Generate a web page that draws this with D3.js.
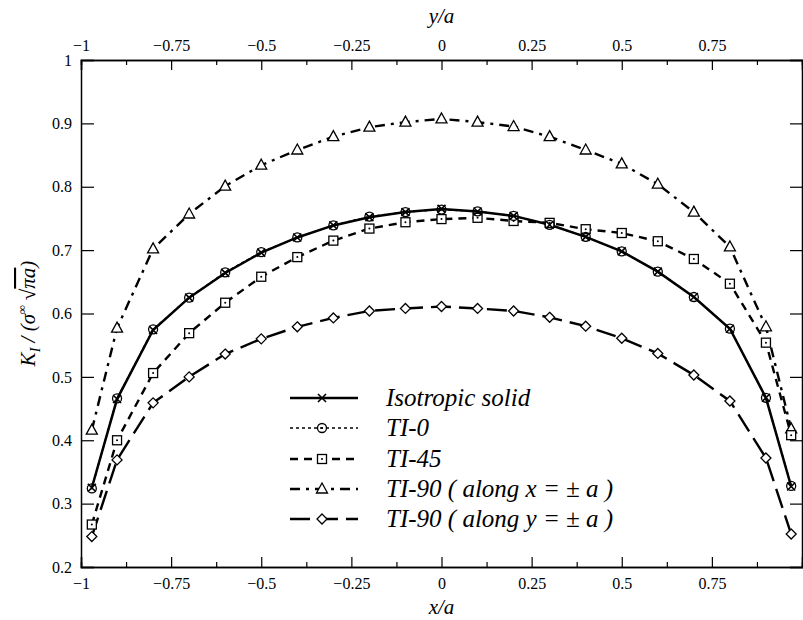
<!DOCTYPE html>
<html>
<head>
<meta charset="utf-8">
<script src="https://cdn.jsdelivr.net/npm/d3@7"></script>
<style>
  body { margin: 0; background: #fff; }
  svg, svg text { font-family: "Liberation Serif", "Times New Roman", "DejaVu Serif", "Noto Serif", serif; fill: #000; }
  .tick-label { font-size: 16px; }
  .axis-title { font-size: 21px; font-style: italic; }
  .legend-text { font-size: 25px; font-style: italic; }
</style>
</head>
<body>
<div id="chart"></div>
<script>
// positions along the crack front (x/a)
const xPos = [-0.97, -0.9, -0.8, -0.7, -0.6, -0.5, -0.4, -0.3, -0.2, -0.1, 0,
              0.1, 0.2, 0.3, 0.4, 0.5, 0.6, 0.7, 0.8, 0.9, 0.97];

const isotropic = [0.325, 0.465, 0.574, 0.625, 0.664, 0.696, 0.720, 0.739, 0.752, 0.760, 0.765,
                   0.761, 0.754, 0.740, 0.721, 0.698, 0.666, 0.626, 0.576, 0.467, 0.327];
const ti0       = [0.324, 0.466, 0.575, 0.625, 0.665, 0.697, 0.720, 0.739, 0.753, 0.760, 0.764,
                   0.761, 0.754, 0.740, 0.721, 0.698, 0.666, 0.626, 0.576, 0.467, 0.328];
const ti45      = [0.267, 0.400, 0.506, 0.569, 0.617, 0.658, 0.689, 0.715, 0.734, 0.744, 0.749,
                   0.751, 0.746, 0.743, 0.733, 0.727, 0.714, 0.686, 0.647, 0.554, 0.408];
const ti90x     = [0.416, 0.577, 0.702, 0.757, 0.801, 0.834, 0.858, 0.879, 0.894, 0.902, 0.907,
                   0.902, 0.895, 0.879, 0.858, 0.836, 0.804, 0.760, 0.705, 0.579, 0.418];
const ti90y     = [0.248, 0.369, 0.459, 0.500, 0.536, 0.560, 0.579, 0.593, 0.604, 0.608, 0.611,
                   0.608, 0.604, 0.594, 0.580, 0.561, 0.537, 0.503, 0.462, 0.372, 0.252];

const seriesNames = ['Isotropic solid', 'TI-0', 'TI-45',
                     'TI-90 ( along x = \u00b1 a )', 'TI-90 ( along y = \u00b1 a )'];

const xTicks = [-1, -0.75, -0.5, -0.25, 0, 0.25, 0.5, 0.75];
const xMinorTicks = [-0.875, -0.625, -0.375, -0.125, 0.125, 0.375, 0.625, 0.875];
const yTicks = [0.2, 0.3, 0.4, 0.5, 0.6, 0.7, 0.8, 0.9, 1];

const W = 803, H = 620;
const plot = {left: 81, right: 802, top: 60, bottom: 567};
const serif = '"Liberation Serif", "Times New Roman", "DejaVu Serif", "Noto Serif", serif';

const x = d3.scaleLinear().domain([-1, 1]).range([plot.left, plot.right]);
const y = d3.scaleLinear().domain([0.2, 1]).range([plot.bottom, plot.top]);

const svg = d3.select('#chart').append('svg')
    .attr('width', W)
    .attr('height', H)
    .style('font-family', serif);

const fmt = d => d3.format('')(d);

// frame + axes (ticks point inward like the original)
const bottomAxis = d3.axisBottom(x).tickValues(xTicks).tickSize(-10).tickPadding(11).tickFormat(fmt);
const bottomMinor = d3.axisBottom(x).tickValues(xMinorTicks).tickSize(-5).tickFormat('');
const topAxis = d3.axisTop(x).tickValues(xTicks).tickSize(-10).tickPadding(9).tickFormat(fmt);
const topMinor = d3.axisTop(x).tickValues(xMinorTicks).tickSize(-5).tickFormat('');
const leftAxis = d3.axisLeft(y).tickValues(yTicks).tickSize(-13).tickPadding(9).tickFormat(fmt);
const rightAxis = d3.axisRight(y).tickValues(yTicks).tickSize(-12).tickFormat('');

function styleAxis(g) {
  g.attr('font-family', null).attr('font-size', null);
  g.select('.domain').attr('stroke', '#000').attr('stroke-width', 1.5);
  g.selectAll('.tick line').attr('stroke', '#000').attr('stroke-width', 1.2);
  g.selectAll('.tick text').attr('class', 'tick-label')
      .style('font-family', serif).style('font-size', '16px');
}

svg.append('g').attr('transform', `translate(0,${plot.bottom})`).call(bottomAxis).call(styleAxis);
svg.append('g').attr('transform', `translate(0,${plot.bottom})`).call(bottomMinor).call(styleAxis);
svg.append('g').attr('transform', `translate(0,${plot.top})`).call(topAxis).call(styleAxis);
svg.append('g').attr('transform', `translate(0,${plot.top})`).call(topMinor).call(styleAxis);
svg.append('g').attr('transform', `translate(${plot.left},0)`).call(leftAxis).call(styleAxis);
svg.append('g').attr('transform', `translate(${plot.right},0)`).call(rightAxis).call(styleAxis);

// axis titles
svg.append('text').attr('class', 'axis-title').style('font-family', serif)
    .attr('x', x(0)).attr('y', 614).attr('text-anchor', 'middle').text('x/a');
svg.append('text').attr('class', 'axis-title').style('font-family', serif)
    .attr('x', x(0)).attr('y', 23).attr('text-anchor', 'middle').text('y/a');

const yTitle = svg.append('text').attr('class', 'axis-title').style('font-family', serif)
    .attr('transform', `translate(35,${y(0.6)}) rotate(-90)`)
    .attr('text-anchor', 'middle');
yTitle.append('tspan').text('K');
yTitle.append('tspan').attr('font-size', 14).attr('dy', 5).text('I');
yTitle.append('tspan').attr('dy', -5).text(' / (\u03c3');
yTitle.append('tspan').attr('font-size', 12).attr('dy', -9).text('\u221e');
yTitle.append('tspan').attr('dy', 9).text(' \u221a');
yTitle.append('tspan').attr('text-decoration', 'overline').text('\u03c0a');
yTitle.append('tspan').text(')');

// series
const series = [
  {name: seriesNames[0], values: isotropic, dash: null, width: 2.5, marker: 'cross'},
  {name: seriesNames[1], values: ti0, dash: '3,3', width: 1.5, marker: 'circle'},
  {name: seriesNames[2], values: ti45, dash: '8,6', width: 2.4, marker: 'square'},
  {name: seriesNames[3], values: ti90x, dash: '10,6,3,6', width: 2.4, marker: 'triangle'},
  {name: seriesNames[4], values: ti90y, dash: '20,8', width: 2.4, marker: 'diamond'}
];

const line = d3.line().x(d => x(d[0])).y(d => y(d[1]));

function drawMarker(g, type, cx, cy) {
  const m = g.append('g').attr('transform', `translate(${cx},${cy})`)
      .attr('fill', '#fff').attr('stroke', '#000').attr('stroke-width', 1.3);
  if (type === 'cross') {
    m.append('path').attr('d', 'M-4,-4L4,4M-4,4L4,-4').attr('stroke-width', 1.6);
  } else if (type === 'circle') {
    m.append('circle').attr('r', 4.5).attr('fill', 'none');
    m.append('circle').attr('r', 1).attr('fill', '#000').attr('stroke', 'none');
  } else if (type === 'square') {
    m.append('rect').attr('x', -4.5).attr('y', -4.5).attr('width', 9).attr('height', 9);
    m.append('circle').attr('r', 1).attr('fill', '#000').attr('stroke', 'none');
  } else if (type === 'triangle') {
    m.append('path').attr('d', 'M0,-6L5.5,4L-5.5,4Z');
  } else if (type === 'diamond') {
    m.append('path').attr('d', 'M0,-5L5,0L0,5L-5,0Z');
  }
}

const plotG = svg.append('g');
series.forEach(s => {
  const pts = xPos.map((xv, i) => [xv, s.values[i]]);
  plotG.append('path')
      .datum(pts)
      .attr('d', line)
      .attr('fill', 'none')
      .attr('stroke', '#000')
      .attr('stroke-width', s.width)
      .attr('stroke-dasharray', s.dash);
});
// markers on top, reverse order so the isotropic crosses sit over the TI-0 circles
series.slice().reverse().forEach(s => {
  xPos.forEach((xv, i) => drawMarker(plotG, s.marker, x(xv), y(s.values[i])));
});

// legend
const legendRows = [398, 428, 459, 489, 519];
const legend = svg.append('g');
series.forEach((s, i) => {
  const ly = legendRows[i];
  legend.append('line')
      .attr('x1', 290).attr('x2', 358).attr('y1', ly).attr('y2', ly)
      .attr('stroke', '#000').attr('stroke-width', s.width)
      .attr('stroke-dasharray', s.dash);
  drawMarker(legend, s.marker, 322, ly);
  legend.append('text').attr('class', 'legend-text').style('font-family', serif)
      .attr('x', 386).attr('y', ly + 8).text(s.name);
});
</script>
</body>
</html>
